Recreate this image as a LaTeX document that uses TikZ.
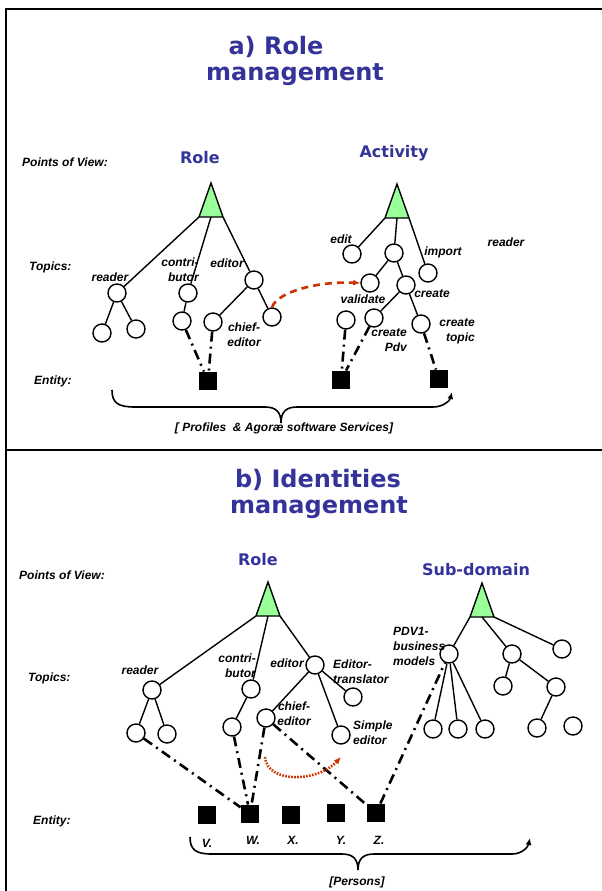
\documentclass[tikz,border=0pt]{standalone}
\usepackage{fontspec}
\setmainfont{Liberation Sans}
\newfontfamily\headfont{DejaVu Sans}
\usetikzlibrary{arrows.meta}
\definecolor{headblue}{RGB}{51,51,153}
\definecolor{povgreen}{RGB}{153,255,153}
\definecolor{linkred}{RGB}{204,51,0}
\newcommand*\lblfont{\fontsize{12}{15}\selectfont\bfseries\itshape}
\newcommand*\povtri[3]{
            \draw[povtri] (#1,#2) -- ++(-12,34) coordinate (#3l) -- ++(12,0) coordinate (#3b)
                          -- ++(12,0) coordinate (#3r) -- cycle;}

\begin{document}
\begin{tikzpicture}[x=1pt,y=-1pt,
  topic/.style={circle,draw,line width=1.4pt,minimum size=18pt,inner sep=0pt},
  entity/.style={rectangle,fill=black,minimum size=18.5pt,inner sep=0pt},
  edge/.style={line width=1.4pt},
  link/.style={line width=2.6pt,dash pattern=on 10pt off 5pt on 2pt off 5pt},
  linkdash/.style={line width=2.6pt,linkred,dash pattern=on 7pt off 5pt,-{Latex[length=7pt,width=6pt]}},
  linkdot/.style={line width=2.6pt,linkred,dash pattern=on 1.6pt off 1.4pt,-{Latex[length=7pt,width=6pt]}},
  brace/.style={line width=1.6pt},
  lbl/.style={font=\lblfont,inner sep=0pt},
  head/.style={font=\headfont\bfseries\fontsize{24}{28}\selectfont,text=headblue,inner sep=0pt},
  view/.style={font=\headfont\bfseries\fontsize{16}{19}\selectfont,text=headblue,inner sep=0pt},
  povtri/.style={draw,line width=1.4pt,fill=povgreen,line join=miter}]
\useasboundingbox (0,0) rectangle (602,891);
\draw[line width=2pt] (602,9) -- (6,9) -- (6,891);
\draw[line width=2pt] (6,450) -- (602,450);

% a) role management
\node[head] (titlea1) at (276,47) {a) Role};
\node[head] (titlea2) at (295,75) {management};
\node[lbl,anchor=west] (pova) at (22,162) {Points of View:};
\node[lbl,anchor=west] (topa) at (29,267) {Topics:};
\node[lbl,anchor=west] (enta) at (34,381) {Entity:};
\node[view] (rolea) at (200,158) {Role};
\node[view] (acta) at (394,153) {Activity};
\povtri{211}{183}{rr}
\povtri{397}{184}{ra}

\node[topic] (rread) at (117,293) {};
\node[topic] (rcont) at (188,293) {};
\node[topic] (redit) at (254,280) {};
\node[topic] (rread1) at (102,333) {};
\node[topic] (rread2) at (136,329) {};
\node[topic] (rcont1) at (182,321) {};
\node[topic] (redit1) at (213,322) {};
\node[topic] (rchief) at (272,317) {};
\node[entity] (ea) at (208,381) {};
\node[lbl] (lrread) at (110,277) {reader};
\node[lbl,align=right] (lrcont) at (180,270) {contri-\\butor};
\node[lbl] (lredit) at (227,263) {editor};
\node[lbl,align=center] (lrchief) at (244,335) {chief-\\editor};
\draw[edge] (rrl) -- (rread);
\draw[edge] (rrb) -- (rcont);
\draw[edge] (rrr) -- (redit);
\draw[edge] (rread) -- (rread1);
\draw[edge] (rread) -- (rread2);
\draw[edge] (rcont) -- (rcont1);
\draw[edge] (redit) -- (redit1);
\draw[edge] (redit) -- (rchief);

\node[topic] (aedit) at (352,254) {};
\node[topic] (amid) at (394,253) {};
\node[topic] (aimp) at (428,273) {};
\node[topic] (aval) at (370,283) {};
\node[topic] (acre) at (406,285) {};
\node[topic] (afree) at (346,320) {};
\node[topic] (apdv) at (374,318) {};
\node[topic] (atop) at (421,324) {};
\node[entity] (ea1) at (341,380) {};
\node[entity] (ea2) at (439,379) {};
\node[lbl] (laedit) at (341,239) {edit};
\node[lbl] (laimp) at (443,252) {import};
\node[lbl] (laread) at (506,242) {reader};
\node[lbl] (laval) at (363,299) {validate};
\node[lbl] (lacre) at (432,294) {create};
\node[lbl,align=right,anchor=east] (lapdv) at (407,340) {create\\Pdv};
\node[lbl,align=right,anchor=east] (latop) at (475,331) {create\\topic};
\draw[edge] (ral) -- (aedit);
\draw[edge] (rab) -- (amid);
\draw[edge] (rar) -- (aimp);
\draw[edge] (amid) -- (aval);
\draw[edge] (amid) -- (acre);
\draw[edge] (acre) -- (apdv);
\draw[edge] (acre) -- (atop);

\draw[link] (rcont1) -- (ea);
\draw[link] (redit1) -- (ea);
\draw[link] (afree) -- (ea1);
\draw[link] (apdv) -- (ea1);
\draw[link] (atop) -- (ea2);
\draw[linkdash] (rchief.north) .. controls (277,292) and (318,281) .. (aval.west);

\coordinate (bra) at (112,390);
\coordinate (brb) at (452,392);
\draw[brace,-{Latex[length=7pt,width=6pt]}] (bra) .. controls (112,403) and (118,407) .. (135,407)
  -- (265,407) .. controls (276,407) and (281,412) .. (281,423)
  .. controls (281,412) and (286,407) .. (297,407) -- (433,407)
  .. controls (444,407) and (450,400) .. (brb);
\node[lbl] (lservices) at (284,428) {[ Profiles\ \ \& Agoræ software Services]};

% b) identities management
\node[head] (titleb1) at (318,480) {b) Identities};
\node[head] (titleb2) at (319,508) {management};
\node[lbl,anchor=west] (povb) at (19,575) {Points of View:};
\node[lbl,anchor=west] (topb) at (28,678) {Topics:};
\node[lbl,anchor=west] (entb) at (33,821) {Entity:};
\node[view] (roleb) at (258,560) {Role};
\node[view] (subb) at (476,570) {Sub-domain};
\povtri{268}{582}{br}
\povtri{482}{583}{bs}

\node[topic] (bread) at (152,690) {};
\node[topic] (bcont) at (251,689) {};
\node[topic] (bedit) at (315,665) {};
\node[topic] (bread1) at (136,733) {};
\node[topic] (bread2) at (167,734) {};
\node[topic] (bcont1) at (232,727) {};
\node[topic] (bchief) at (266,718) {};
\node[topic] (btrans) at (353,697) {};
\node[topic] (bsimple) at (341,735) {};
\node[lbl] (lbread) at (140,670) {reader};
\node[lbl,align=right,anchor=east] (lbcont) at (256,666) {contri-\\butor};
\node[lbl] (lbedit) at (287,663) {editor};
\node[lbl,align=center] (lbchief) at (294,714) {chief-\\editor};
\node[lbl,align=left,anchor=west] (lbtrans) at (333,672) {Editor-\\translator};
\node[lbl,align=left,anchor=west] (lbsimple) at (353,733) {Simple\\editor};
\draw[edge] (brl) -- (bread);
\draw[edge] (brb) -- (bcont);
\draw[edge] (brr) -- (bedit);
\draw[edge] (bread) -- (bread1);
\draw[edge] (bread) -- (bread2);
\draw[edge] (bcont) -- (bcont1);
\draw[edge] (bedit) -- (bchief);
\draw[edge] (bedit) -- (btrans);
\draw[edge] (bedit) -- (bsimple);

\node[topic] (spdv) at (449,654) {};
\node[topic] (s2) at (512,654) {};
\node[topic] (s3) at (562,649) {};
\node[topic] (spdv1) at (433,729) {};
\node[topic] (spdv2) at (458,729) {};
\node[topic] (spdv3) at (485,729) {};
\node[topic] (s21) at (503,686) {};
\node[topic] (s22) at (556,687) {};
\node[topic] (s221) at (537,728) {};
\node[topic] (sfree) at (573,726) {};
\node[lbl,align=left,anchor=west] (lspdv) at (393,646) {PDV1-\\business\\models};
\draw[edge] (bsl) -- (spdv);
\draw[edge] (bsb) -- (s2);
\draw[edge] (bsr) -- (s3);
\draw[edge] (spdv) -- (spdv1);
\draw[edge] (spdv) -- (spdv2);
\draw[edge] (spdv) -- (spdv3);
\draw[edge] (s2) -- (s21);
\draw[edge] (s2) -- (s22);
\draw[edge] (s22) -- (s221);

\node[entity] (ev) at (207,815) {};
\node[entity] (ew) at (250,814) {};
\node[entity] (ex) at (291,815) {};
\node[entity] (ey) at (336,813) {};
\node[entity] (ez) at (376,813) {};
\node[lbl] (lev) at (207,843) {V.};
\node[lbl] (lew) at (253,840) {W.};
\node[lbl] (lex) at (293,840) {X.};
\node[lbl] (ley) at (341,840) {Y.};
\node[lbl] (lez) at (379,840) {Z.};

\draw[link] (bread1) -- (ew);
\draw[link] (bcont1) -- (ew);
\draw[link] (bchief) -- (ew);
\draw[link] (bchief) -- (ez);
\draw[link] (ez) -- (spdv);
\coordinate (swapa) at (265,757);
\coordinate (swapb) at (341,757);
\draw[linkdot] (swapa) .. controls (267,784) and (318,782) .. (swapb);

\coordinate (bpa) at (190,837);
\coordinate (bpb) at (530,838);
\draw[brace,-{Latex[length=7pt,width=6pt]}] (bpa) .. controls (190,850) and (196,854) .. (212,854)
  -- (342,854) .. controls (353,854) and (358,859) .. (358,870)
  .. controls (358,859) and (363,854) .. (374,854) -- (512,854)
  .. controls (522,854) and (528,847) .. (bpb);
\node[lbl] (lpersons) at (357,882) {[Persons]};
\end{tikzpicture}
\end{document}
